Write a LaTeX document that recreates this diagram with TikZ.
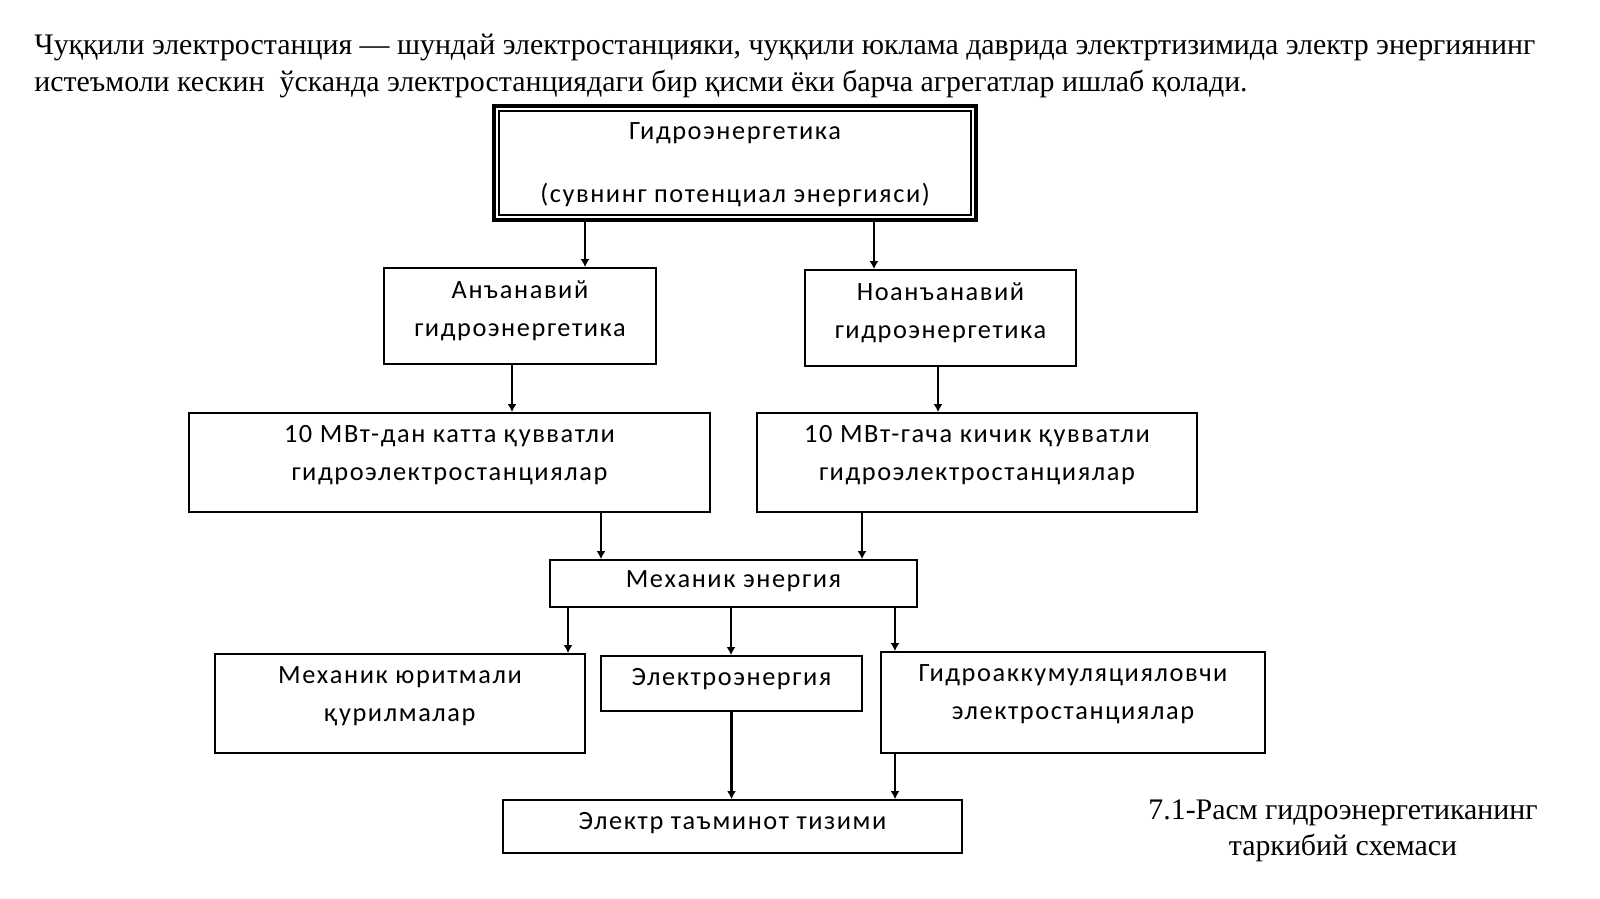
\documentclass[tikz,border=0pt]{standalone}
\usepackage{fontspec}
\setmainfont{Liberation Serif}
\newfontfamily\boxfont[LetterSpace=6]{Carlito}
\usetikzlibrary{arrows.meta, fit}

\tikzset{
  box/.style={draw, line width=1pt, inner sep=0pt},
  boxtext/.style={anchor=north, align=center, inner sep=0pt, yshift=-7.3pt,
    font=\boxfont\fontsize{15}{21.6}\selectfont},
  arr/.style={-{Latex[length=4.5pt,width=5pt]}, line width=1.6pt},
}

\begin{document}
\begin{tikzpicture}[x=0.02cm, y=-0.02cm]
\useasboundingbox (0,0) rectangle (1600,899);

\node[anchor=base west, align=left, inner sep=0pt, font=\fontsize{17}{20.5}\selectfont] (intro) at (34,91)
  {Чуққили электростанция — шундай электростанцияки, чуққили юклама даврида электртизимида электр энергиянинг\\
   истеъмоли кескин\ \ ўсканда электростанциядаги бир қисми ёки барча агрегатлар ишлаб қолади.};

% boxes
\node[box, line width=2pt, fit={(494,106) (976,220)},
  label={[boxtext, yshift=-3pt]north:{Гидроэнергетика\\[14pt](сувнинг потенциал энергияси)}}] (top) {};
\draw[line width=0.9pt] ([shift={(4pt,-4pt)}]top.north west) rectangle ([shift={(-4pt,4pt)}]top.south east);

\node[box, fit={(384,268) (656,364)}, label={[boxtext]north:{Анъанавий\\гидроэнергетика}}] (trad) {};
\node[box, fit={(805,270) (1076,366)}, label={[boxtext]north:{Ноанъанавий\\гидроэнергетика}}] (nontrad) {};
\node[box, fit={(189,413) (710,512)}, label={[boxtext]north:{10 МВт-дан катта қувватли\\гидроэлектростанциялар}}] (large) {};
\node[box, fit={(757,413) (1197,512)}, label={[boxtext]north:{10 МВт-гача кичик қувватли\\гидроэлектростанциялар}}] (small) {};
\node[box, fit={(550,560) (917,607)}, label={[boxtext, yshift=1pt]north:{Механик энергия}}] (mech) {};
\node[box, fit={(215,654) (585,753)}, label={[boxtext]north:{Механик юритмали\\қурилмалар}}] (drive) {};
\node[box, fit={(601,656) (862,711)}, label={[boxtext]north:{Электроэнергия}}] (elec) {};
\node[box, fit={(881,652) (1265,753)}, label={[boxtext]north:{Гидроаккумуляцияловчи\\электростанциялар}}] (pumped) {};
\node[box, fit={(503,800) (962,853)}, label={[boxtext]north:{Электр таъминот тизими}}] (supply) {};

\node[align=center, inner sep=0pt, font=\fontsize{17}{20.5}\selectfont] (caption) at (1343,831)
  {7.1-Расм гидроэнергетиканинг\\таркибий схемаси};

% arrows
\draw[arr] ([xshift=-3cm]top.south) -- ([xshift=-3cm]top.south |- trad.north);
\draw[arr] ([xshift=2.78cm]top.south) -- ([xshift=2.78cm]top.south |- nontrad.north);
\draw[arr] ([xshift=-0.16cm]trad.south) -- ([xshift=-0.16cm]trad.south |- large.north);
\draw[arr] ([xshift=-0.05cm]nontrad.south) -- ([xshift=-0.05cm]nontrad.south |- small.north);
\draw[arr] ([xshift=3.03cm]large.south) -- ([xshift=3.03cm]large.south |- mech.north);
\draw[arr] ([xshift=-2.3cm]small.south) -- ([xshift=-2.3cm]small.south |- mech.north);
\draw[arr] ([xshift=-3.31cm]mech.south) -- ([xshift=-3.31cm]mech.south |- drive.north);
\draw[arr] ([xshift=-0.05cm]mech.south) -- ([xshift=-0.05cm]mech.south |- elec.north);
\draw[arr] ([xshift=3.23cm]mech.south) -- ([xshift=3.23cm]mech.south |- pumped.north);
\draw[arr] (elec.south) -- (elec.south |- supply.north);
\draw[arr] ([xshift=-3.56cm]pumped.south) -- ([xshift=-3.56cm]pumped.south |- supply.north);
\end{tikzpicture}
\end{document}
